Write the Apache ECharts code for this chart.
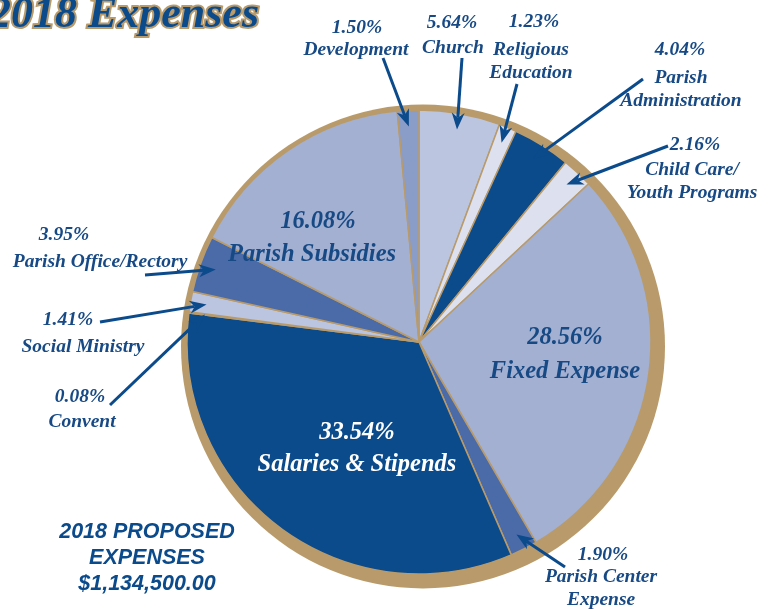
<!DOCTYPE html>
<html><head><meta charset="utf-8">
<script src="https://cdn.jsdelivr.net/npm/echarts@6/dist/echarts.min.js"></script>
<style>html,body{margin:0;padding:0;background:#fff}#c{width:777px;height:609px}</style>
</head><body><div id="c"></div>
<script>
// ---- data ----
const categories = ['Church','Religious Education','Parish Administration','Child Care/Youth Programs','Fixed Expense','Parish Center Expense','Salaries & Stipends','Convent','Social Ministry','Parish Office/Rectory','Parish Subsidies','Development'];
const percents = [5.64,1.23,4.04,2.16,28.56,1.90,33.54,0.08,1.41,3.95,16.08,1.50];
const labelNames = ['Church','Religious\nEducation','Parish\nAdministration','Child Care/\nYouth Programs','Fixed Expense','Parish Center\nExpense','Salaries & Stipends','Convent','Social Ministry','Parish Office/Rectory','Parish Subsidies','Development'];
const titleText = '2018 Expenses';
const totalLines = ['2018 PROPOSED','EXPENSES','$1,134,500.00'];

// ---- styles / layout ----
const sliceColors = ['#bbc5df','#dde0ef','#0b4a8b','#dde0ef','#a3b0d2','#4a6ba8','#0b4a8b','#dde0ef','#bbc5df','#4a6ba8','#a3b0d2','#8a9cc8'];
const GOLD = '#b99b6b', BLUE = '#174a85';
const CX = 419, CY = 342, R = 232;
const FONT_OUT = 'italic bold 19.5px "Liberation Serif"';
const FONT_IN = 'italic bold 24.5px "Liberation Serif"';
const outerLayout = {
  0: {pct:[452,23], name:[453,48], tail:[462,58]},
  1: {pct:[534,22], name:[531,50], tail:[517,84]},
  2: {pct:[680,50], name:[681,78], tail:[643,79]},
  3: {pct:[695,145], name:[692,170], tail:[668,146]},
  5: {pct:[603,555], name:[601,577], tail:[565,567]},
  7: {pct:[80,397], name:[82,422], tail:[110,405]},
  8: {pct:[68,320], name:[83,347], tail:[100,322]},
  9: {pct:[64,235], name:[100,262], tail:[145,275]},
  11:{pct:[357,28], name:[356,50], tail:[383,58]}
};
const innerLayout = {
  4: {pct:[565,338], name:[565,372], color:BLUE},
  6: {pct:[357,433], name:[357,465], color:'#ffffff'},
  10:{pct:[318,222], name:[312,255], color:BLUE}
};

const chart = echarts.init(document.getElementById('c'), null, {renderer:'canvas'});
const total = percents.reduce((a,b)=>a+b,0);
const midAngles = [];
let acc = 0;
percents.forEach(v => { midAngles.push((acc + v/2) / total * 360); acc += v; });

function arrow(tail, tip){
  const dx=tip[0]-tail[0], dy=tip[1]-tail[1], L=Math.hypot(dx,dy);
  const ux=dx/L, uy=dy/L, px=-uy, py=ux;
  const hl=17, hw=6.5, nt=12;
  const bx=tip[0]-ux*hl, by=tip[1]-uy*hl;
  const nx=tip[0]-ux*nt, ny=tip[1]-uy*nt;
  return [
    {type:'line', z:50, shape:{x1:tail[0],y1:tail[1],x2:nx,y2:ny}, style:{stroke:'#0b4a8b', lineWidth:3}},
    {type:'polygon', z:50, shape:{points:[tip,[bx+px*hw,by+py*hw],[nx,ny],[bx-px*hw,by-py*hw]]}, style:{fill:'#0b4a8b'}}
  ];
}
function txt(s, pos, font, color, lh){
  return {type:'text', z:60, style:{text:s, x:pos[0], y:pos[1]-(lh||0)/2, font:font, fill:color, align:'center', verticalAlign: lh? 'top':'middle', lineHeight: lh||undefined}};
}

const graphics = [];
graphics.push({type:'circle', z:-10, shape:{cx:CX+4, cy:CY+4.5, r:R+10}, style:{fill:GOLD}});
Object.keys(outerLayout).forEach(k => {
  const i = +k, L = outerLayout[i];
  const th = midAngles[i]*Math.PI/180, rr = R*0.93;
  const tip = [CX + rr*Math.sin(th), CY - rr*Math.cos(th)];
  graphics.push(...arrow(L.tail, tip));
  graphics.push(txt(percents[i].toFixed(2)+'%', L.pct, FONT_OUT, BLUE));
  graphics.push(txt(labelNames[i], L.name, FONT_OUT, BLUE, 23));
});
Object.keys(innerLayout).forEach(k => {
  const i = +k, L = innerLayout[i];
  graphics.push(txt(percents[i].toFixed(2)+'%', L.pct, FONT_IN, L.color));
  graphics.push(txt(labelNames[i], L.name, FONT_IN, L.color));
});
// title
const TFONT = 'italic bold 44px "Liberation Serif"';
graphics.push({type:'text', z:60, style:{text:titleText, x:259, y:16, font:TFONT, fill:GOLD, stroke:GOLD, lineWidth:4, align:'right', verticalAlign:'middle'}});
graphics.push({type:'text', z:61, style:{text:titleText, x:259, y:16, font:TFONT, fill:'#0b4a8b', align:'right', verticalAlign:'middle'}});
// total
graphics.push({type:'text', z:60, style:{text:totalLines.join('\n'), x:147, y:519, font:'italic bold 21.5px "Liberation Sans"', fill:'#0b4a8b', align:'center', verticalAlign:'top', lineHeight:26}});

chart.setOption({
  animation:false,
  backgroundColor:'#ffffff',
  series:[{
    type:'pie', z:2, center:[CX,CY], radius:R, startAngle:90, clockwise:true,
    label:{show:false}, labelLine:{show:false}, silent:true,
    itemStyle:{borderColor:GOLD, borderWidth:1.5},
    data: categories.map((c,i)=>({name:c, value:percents[i], itemStyle:{color:sliceColors[i]}}))
  }],
  graphic:{elements:graphics}
});
</script></body></html>
